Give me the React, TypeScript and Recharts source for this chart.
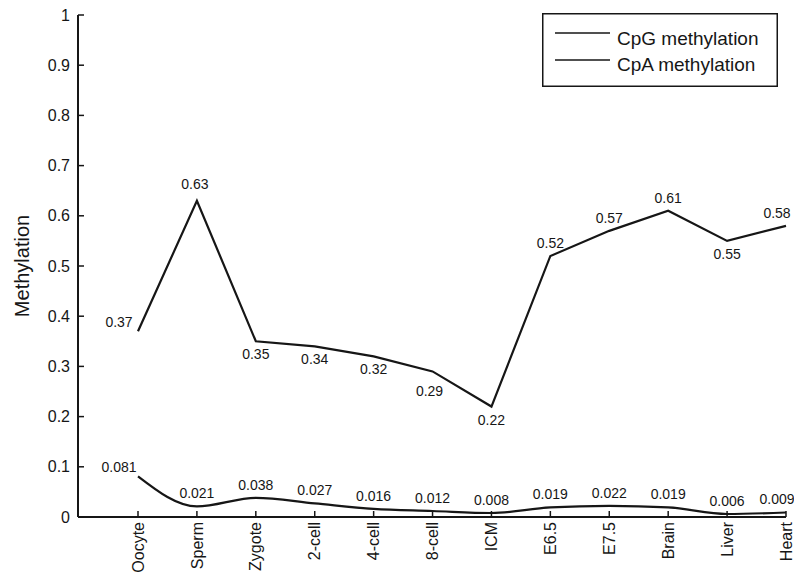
import { LineChart, Line, XAxis, YAxis, Legend, LabelList } from 'recharts';

const stages = ['Oocyte', 'Sperm', 'Zygote', '2-cell', '4-cell', '8-cell', 'ICM', 'E6.5', 'E7.5', 'Brain', 'Liver', 'Heart'];
const cpgValues = [0.37, 0.63, 0.35, 0.34, 0.32, 0.29, 0.22, 0.52, 0.57, 0.61, 0.55, 0.58];
const cpaValues = [0.081, 0.021, 0.038, 0.027, 0.016, 0.012, 0.008, 0.019, 0.022, 0.019, 0.006, 0.009];
const yTicks = [0, 0.1, 0.2, 0.3, 0.4, 0.5, 0.6, 0.7, 0.8, 0.9, 1];
const seriesNames = ['CpG methylation', 'CpA methylation'];

// which side of the point each value label goes
const cpgLabelSide = ['left', 'high', 'below', 'below', 'below', 'lowLeft', 'below', 'above', 'above', 'above', 'below', 'aboveLeft'];
const cpaLabelSide = ['left', 'above', 'above', 'above', 'above', 'above', 'above', 'above', 'above', 'above', 'above', 'aboveLeft'];

const FONT = '"Liberation Sans", Arial, Helvetica, sans-serif';
const INK = '#161616';

const data = stages.map((stage, i) => ({
  stage,
  cpg: cpgValues[i],
  cpa: cpaValues[i],
}));

const sideOffset: Record<string, [number, number]> = {
  above: [0, -13],
  high: [-2, -17],
  aboveLeft: [-9, -13],
  below: [0, 13],
  lowLeft: [-3, 20],
  left: [-19, -9],
};

function makeValueLabel(sides: string[]) {
  return (props: any) => {
    const { x, y, value, index } = props;
    const [dx, dy] = sideOffset[sides[index]] || [0, -13];
    return (
      <text
        x={x + dx}
        y={y + dy}
        textAnchor="middle"
        dominantBaseline="central"
        fontSize={14}
        fontFamily={FONT}
        fill={INK}
      >
        {String(value)}
      </text>
    );
  };
}

function StageTick(props: any) {
  const { x, y, payload } = props;
  return (
    <text
      transform={`translate(${x},${y}) rotate(-90)`}
      textAnchor="end"
      dy="0.35em"
      fontSize={16}
      fontFamily={FONT}
      fill={INK}
    >
      {payload.value}
    </text>
  );
}

function YTitle(props: any) {
  const { viewBox } = props;
  const cx = viewBox.x + 22;
  const cy = viewBox.y + viewBox.height / 2;
  return (
    <text
      transform={`translate(${cx},${cy}) rotate(-90)`}
      textAnchor="middle"
      dy="0.35em"
      fontSize={20}
      fontFamily={FONT}
      fill={INK}
    >
      Methylation
    </text>
  );
}

function LegendBox() {
  return (
    <svg width={236} height={74} style={{ display: 'block' }}>
      <rect x={0.75} y={0.75} width={234.5} height={72.5} fill="#fff" stroke={INK} strokeWidth={1.5} />
      {seriesNames.map((name, i) => (
        <g key={name}>
          <line x1={13} x2={68} y1={20 + i * 27} y2={20 + i * 27} stroke={INK} strokeWidth={1.5} />
          <text x={75} y={25 + i * 26} dy="0.35em" fontSize={19} fontFamily={FONT} fill={INK}>
            {name}
          </text>
        </g>
      ))}
    </svg>
  );
}

export default function App() {
  return (
    <div style={{ position: 'absolute', left: 0, top: 0, width: 794, height: 573, background: '#fff' }}>
      <LineChart width={794} height={573} data={data} margin={{ top: 15, right: 8, bottom: 0, left: 0 }}>
        <XAxis
          dataKey="stage"
          interval={0}
          padding={{ left: 60, right: 0 }}
          height={56}
          axisLine={{ stroke: INK, strokeWidth: 2 }}
          tickLine={{ stroke: INK, strokeWidth: 1.5 }}
          tickSize={-6}
          tickMargin={11}
          tick={<StageTick />}
        />
        <YAxis
          width={78}
          domain={[0, 1]}
          ticks={yTicks}
          interval={0}
          axisLine={{ stroke: INK, strokeWidth: 2 }}
          tickLine={{ stroke: INK, strokeWidth: 1.5 }}
          tickSize={-6}
          tickMargin={14}
          tick={{ fill: INK, fontSize: 16, fontFamily: FONT }}
          label={<YTitle />}
        />
        <Legend
          layout="vertical"
          align="center"
          verticalAlign="middle"
          wrapperStyle={{ position: 'absolute', left: 542, top: 13, width: 236, height: 74 }}
          content={() => <LegendBox />}
        />
        <Line
          name={seriesNames[0]}
          dataKey="cpg"
          type="linear"
          stroke={INK}
          strokeWidth={2.2}
          dot={false}
          isAnimationActive={false}
        >
          <LabelList dataKey="cpg" content={makeValueLabel(cpgLabelSide)} />
        </Line>
        <Line
          name={seriesNames[1]}
          dataKey="cpa"
          type="monotone"
          stroke={INK}
          strokeWidth={2.2}
          dot={false}
          isAnimationActive={false}
        >
          <LabelList dataKey="cpa" content={makeValueLabel(cpaLabelSide)} />
        </Line>
      </LineChart>
    </div>
  );
}
